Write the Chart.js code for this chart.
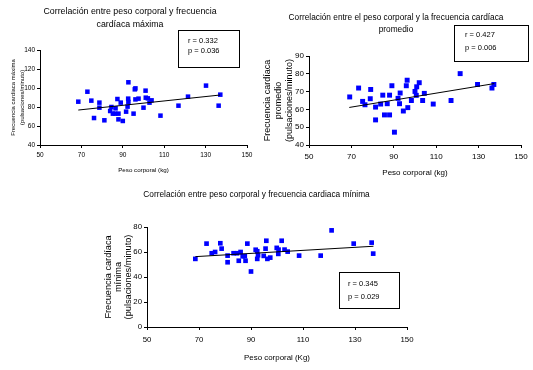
<!DOCTYPE html>
<html><head><meta charset="utf-8">
<script src="https://cdn.jsdelivr.net/npm/chart.js@4/dist/chart.umd.min.js"></script>
<style>
html,body{margin:0;padding:0;background:#fff;width:533px;height:370px;overflow:hidden;position:relative}
.c{position:absolute}
canvas{display:block}
</style></head><body>
<div class="c" style="left:0;top:0"><canvas id="c1" width="260" height="185"></canvas></div>
<div class="c" style="left:260px;top:0"><canvas id="c2" width="273" height="185"></canvas></div>
<div class="c" style="left:0;top:185px"><canvas id="c3" width="533" height="185"></canvas></div>
<script>
// ---- Data ----
const xTicks = [50, 70, 90, 110, 130, 150];

// Chart 1: maximum heart rate
const weightMax = [68.5,72.9,74.8,76.1,78.7,78.7,81.1,83.9,84.5,85.2,86.3,86.5,87.4,87.9,87.9,89,90,91.6,92.3,92.6,92.7,92.7,95.2,95.8,96.1,96.1,97.6,100,101,101.1,102.1,102.9,103.9,108.2,116.9,121.5,130.2,136.3,137.1];
const hrMax     = [85.6,96.1,86.7,68.4,84.6,79.3,66,75.8,80,73,73,78.6,88.4,73,67,84.6,65.3,75.1,80.4,88.8,85.3,106,73,98.6,99.6,88,88.8,79.3,97.2,89.8,89.1,84.6,87,70.9,81.4,90.9,102.5,81.4,93];
const trendMaxX = [68.5, 137];
const trendMaxY = [76.8, 92.6];
const statsMax  = ['r = 0.332', 'p = 0.036'];

// Chart 2: average heart rate
const weightAvg = [69.2,73.4,75.3,76.4,79.1,78.9,81.4,81.4,83.8,84.8,85.6,86.9,88,88,89.1,90.3,92,92.7,93,94.5,95.9,96.3,96.6,98.3,100,100.8,100.6,102,103.6,104.4,108.6,117,121.3,129.5,136.3,137.2];
const hrAvg     = [67,72,64.5,62.6,71.2,66,61.3,54.1,63,68,56.9,63.2,68,56.9,73.3,47.2,66.2,63.2,69.2,59.1,73.3,76.4,61,65,70.1,72.7,67.9,75,65,69,63,65,80.1,74,72,74];
const trendAvgX = [69, 137.4];
const trendAvgY = [61.1, 74.5];
const statsAvg  = ['r = 0.427', 'p = 0.006'];

// Chart 3: minimum heart rate
const weightMin = [68.6,72.9,74.9,76.2,78.2,78.7,81,81,83.3,84.6,85.3,86,86.8,87.6,87.9,88.6,90,91.8,92.4,92.4,92.7,94.9,95.6,95.9,96.3,97.4,99.9,100.5,100.6,101.8,102.9,104.1,108.5,116.8,121,129.5,136.4,137];
const hrMin     = [54.5,66.7,59,60,67,62.7,57.1,51.8,59,59,53,60,56.6,56.6,53,66.7,44.4,61.8,60.6,54.5,57.4,56.9,62.7,69,54.5,55.5,63.3,58.5,61.9,69,61.9,60.3,57.1,57.1,77.3,66.7,67.5,58.7];
const trendMinX = [68.6, 137.1];
const trendMinY = [56.3, 64.6];
const statsMin  = ['r = 0.345', 'p = 0.029'];

// ---- Helpers ----
const FONT = "'Liberation Sans', Arial, sans-serif";
const pts = (xs, ys) => xs.map((x, i) => ({x, y: ys[i]}));

const statBox = {
  id: 'statBox',
  afterDraw(chart, args, o) {
    const ctx = chart.ctx;
    ctx.save();
    ctx.fillStyle = '#fff';
    ctx.fillRect(o.x, o.y, o.w, o.h);
    ctx.strokeStyle = '#000';
    ctx.lineWidth = 1;
    ctx.strokeRect(o.x + 0.5, o.y + 0.5, o.w, o.h);
    ctx.fillStyle = '#000';
    ctx.font = o.size + 'px ' + FONT;
    ctx.textBaseline = 'middle';
    ctx.textAlign = 'left';
    ctx.fillText(o.lines[0], o.tx, o.ty1);
    ctx.fillText(o.lines[1], o.tx, o.ty2);
    ctx.restore();
  }
};

function make(id, c) {
  return new Chart(document.getElementById(id), {
    type: 'scatter',
    data: {
      datasets: [
        {data: pts(c.xs, c.ys), backgroundColor: '#0000ff', borderColor: '#0000ff', borderWidth: 0,
         pointStyle: 'rect', pointRadius: c.pr, pointHoverRadius: c.pr, order: 2},
        {data: pts(c.tx, c.ty), showLine: true, borderColor: '#000', borderWidth: 1,
         pointRadius: 0, fill: false, order: 1}
      ]
    },
    options: {
      responsive: false, animation: false, events: [],
      layout: {padding: {left: c.padLeft, top: 0, right: c.padRight, bottom: 0}},
      plugins: {
        legend: {display: false}, tooltip: {enabled: false},
        title: {display: true, text: c.title, color: '#000',
          font: {family: FONT, size: c.titleSize, weight: 'normal', lineHeight: c.titleLH + 'px'},
          padding: {top: c.titlePT, bottom: c.titlePB}},
        statBox: c.box
      },
      scales: {
        x: {
          type: 'linear', min: 50, max: 150,
          afterFit: s => { s.height = c.xH; },
          afterBuildTicks: s => { s.ticks = xTicks.map(v => ({value: v})); },
          border: {display: true, color: '#000', width: 1},
          grid: {drawOnChartArea: false, drawTicks: true, tickLength: 3, color: '#000'},
          ticks: {color: '#000', font: {family: FONT, size: c.tickSize}, padding: c.xTickPad, maxRotation: 0, autoSkip: false},
          title: {display: true, text: c.xTitle, color: '#000',
            font: {family: FONT, size: c.xTitleSize, lineHeight: c.xTitleLH + 'px'},
            padding: {top: 0, bottom: c.xTitlePB}}
        },
        y: {
          type: 'linear', min: c.yMin, max: c.yMax,
          afterFit: s => { s.width = c.yW; },
          border: {display: true, color: '#000', width: 1},
          grid: {drawOnChartArea: false, drawTicks: true, tickLength: 3, color: '#000'},
          ticks: {color: '#000', stepSize: c.yStep, font: {family: FONT, size: c.tickSize}, padding: 2},
          title: {display: true, text: c.yTitle, color: '#000',
            font: {family: FONT, size: c.yTitleSize, lineHeight: c.yTitleLH + 'px'},
            padding: {top: c.yTitlePT, bottom: 0}}
        }
      }
    },
    plugins: [statBox]
  });
}

make('c1', {
  xs: weightMax, ys: hrMax, tx: trendMaxX, ty: trendMaxY, pr: 3.2,
  padLeft: 13, padRight: 13, yW: 27, xH: 40, yMin: 40, yMax: 140, yStep: 10,
  title: ['Correlación entre peso corporal y frecuencia', 'cardíaca máxima'],
  titleSize: 8.8, titleLH: 13, titlePT: 5.5, titlePB: 18.5,
  yTitle: ['Frecuencia cardiaca máxima', '(pulsaciones/minuto)'], yTitleSize: 6, yTitleLH: 9, yTitlePT: -4.5,
  xTitle: 'Peso corporal (kg)', xTitleSize: 6.2, xTitleLH: 9, xTitlePB: 10.5,
  tickSize: 6.5, xTickPad: 3,
  box: {x: 178, y: 30, w: 61, h: 37, tx: 188, ty1: 41, ty2: 51, size: 7.5, lines: statsMax}
});

make('c2', {
  xs: weightAvg, ys: hrAvg, tx: trendAvgX, ty: trendAvgY, pr: 3.5,
  padLeft: 11, padRight: 12, yW: 38, xH: 40, yMin: 40, yMax: 90, yStep: 10,
  title: ['Correlación entre el peso corporal y la frecuencia cardíaca', 'promedio'],
  titleSize: 8.3, titleLH: 12, titlePT: 11.5, titlePB: 20.5,
  yTitle: ['Frecuencia cardíaca', 'promedio', '(pulsaciones/minuto)'], yTitleSize: 9, yTitleLH: 11, yTitlePT: -8.5,
  xTitle: 'Peso corporal (kg)', xTitleSize: 8, xTitleLH: 10, xTitlePB: 7,
  tickSize: 8, xTickPad: 4,
  box: {x: 194, y: 25, w: 74, h: 36, tx: 205, ty1: 35, ty2: 48, size: 7.5, lines: statsAvg}
});

make('c3', {
  xs: weightMin, ys: hrMin, tx: trendMinX, ty: trendMinY, pr: 3.3,
  padLeft: 106, padRight: 126, yW: 41, xH: 43, yMin: 0, yMax: 80, yStep: 20,
  title: ['Correlación entre peso corporal y frecuencia cardiaca mínima'],
  titleSize: 8.3, titleLH: 11, titlePT: 4.5, titlePB: 26.5,
  yTitle: ['Frecuencia cardíaca', 'mínima', '(pulsaciones/minuto)'], yTitleSize: 9.2, yTitleLH: 10, yTitlePT: -3,
  xTitle: 'Peso corporal (Kg)', xTitleSize: 7.9, xTitleLH: 10, xTitlePB: 7,
  tickSize: 7.8, xTickPad: 5,
  box: {x: 339, y: 87, w: 60, h: 36, tx: 348, ty1: 98.5, ty2: 111.5, size: 7.5, lines: statsMin}
});
</script>
</body></html>
